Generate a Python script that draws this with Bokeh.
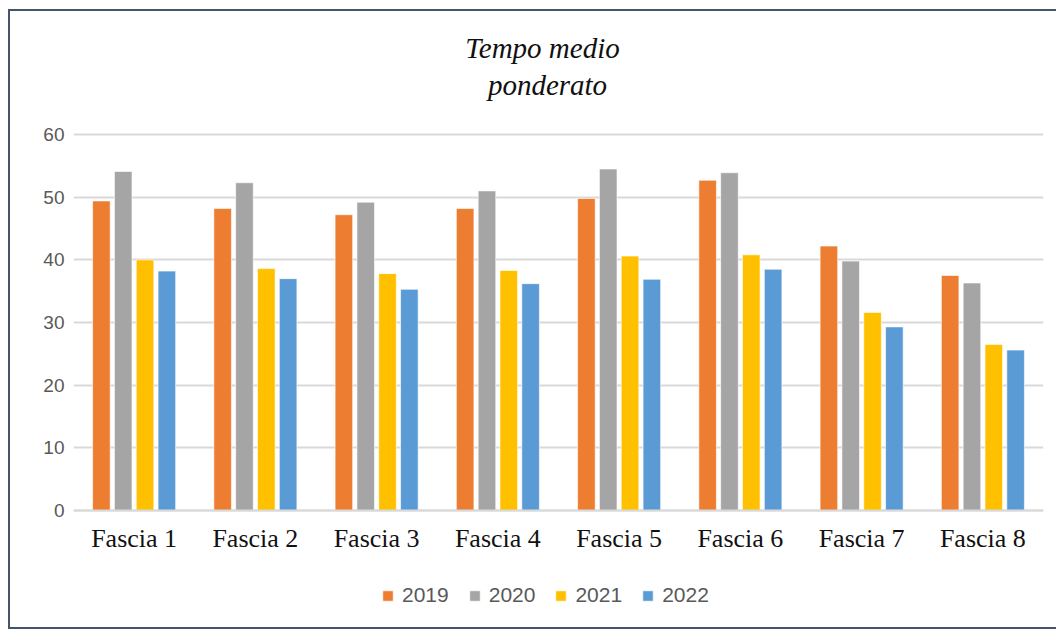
from bokeh.plotting import figure
from bokeh.models import FactorRange, Range1d, Legend, LegendItem, FixedTicker, Label
from bokeh.transform import dodge
from bokeh.embed import file_html
from bokeh.resources import INLINE

categories = ["Fascia 1", "Fascia 2", "Fascia 3", "Fascia 4",
              "Fascia 5", "Fascia 6", "Fascia 7", "Fascia 8"]
years = ["2019", "2020", "2021", "2022"]
v2019 = [49.4, 48.2, 47.2, 48.2, 49.8, 52.7, 42.2, 37.5]
v2020 = [54.1, 52.3, 49.2, 51.0, 54.5, 53.9, 39.8, 36.3]
v2021 = [40.0, 38.6, 37.8, 38.3, 40.6, 40.8, 31.6, 26.5]
v2022 = [38.2, 37.0, 35.3, 36.2, 36.9, 38.5, 29.3, 25.6]
y_ticks = [0, 10, 20, 30, 40, 50, 60]
colors = ["#ed7d31", "#a5a5a5", "#ffc000", "#5b9bd5"]
title_lines = ["Tempo medio", "ponderato"]

series = [v2019, v2020, v2021, v2022]
offsets = [-0.27, -0.09, 0.09, 0.27]

border = "2px solid #44546a"
p = figure(width=1048, height=620, output_backend="svg", toolbar_location=None,
           title=None,
           x_range=FactorRange(*categories, range_padding=0),
           y_range=Range1d(-18.67, 79.63),
           min_border_left=63, min_border_right=15,
           min_border_top=0, min_border_bottom=4,
           styles={"margin-left": "8px", "margin-top": "9px",
                   "border-top": border, "border-left": border,
                   "border-bottom": border, "border-right": "none"})

data = {"cat": categories}
for y, s in zip(years, series):
    data[y] = s

items = []
for y, s, c, off in zip(years, series, colors, offsets):
    r = p.vbar(x=dodge("cat", off, range=p.x_range), top=y, bottom=0,
               width=0.145, source=data, fill_color=c,
               line_color="white", line_width=1, line_alpha=0.6)
    items.append(LegendItem(label=y, renderers=[r]))

for txt, cx, cy in zip(title_lines, [530, 535], [34, 71]):
    p.add_layout(Label(text=txt, x=cx, y=cy, x_units="canvas", y_units="canvas",
                       text_align="center", text_baseline="middle",
                       text_font="Liberation Serif", text_font_style="italic",
                       text_font_size="29px", text_color="#111111"))

ticker = FixedTicker(ticks=y_ticks)
p.outline_line_color = None
p.xgrid.grid_line_color = None
p.ygrid.ticker = ticker
p.ygrid.grid_line_color = "#d9d9d9"
p.ygrid.grid_line_width = 2
p.yaxis.ticker = ticker
p.yaxis.axis_line_color = None
p.yaxis.major_tick_line_color = None
p.yaxis.major_tick_out = 0
p.yaxis.major_tick_in = 0
p.yaxis.minor_tick_line_color = None
p.yaxis.major_label_text_font = "Liberation Sans"
p.yaxis.major_label_text_font_size = "19px"
p.yaxis.major_label_text_color = "#595959"
p.yaxis.major_label_standoff = 9

p.xaxis.fixed_location = 0
p.xaxis.axis_line_color = "#d9d9d9"
p.xaxis.axis_line_width = 2
p.xaxis.major_tick_line_color = None
p.xaxis.major_tick_out = 0
p.xaxis.major_tick_in = 0
p.xaxis.minor_tick_line_color = None
p.xaxis.major_label_text_font = "Liberation Serif"
p.xaxis.major_label_text_font_size = "26px"
p.xaxis.major_label_text_color = "#111111"
p.xaxis.major_label_standoff = 13

legend = Legend(items=items, orientation="horizontal", location=(308, 20),
                glyph_width=13, glyph_height=13, label_standoff=8, spacing=19,
                label_text_font="Liberation Sans", label_text_font_size="21px",
                label_text_color="#595959", border_line_color=None,
                background_fill_alpha=0)
p.add_layout(legend)

open("out.html", "w").write(file_html(p, INLINE))
